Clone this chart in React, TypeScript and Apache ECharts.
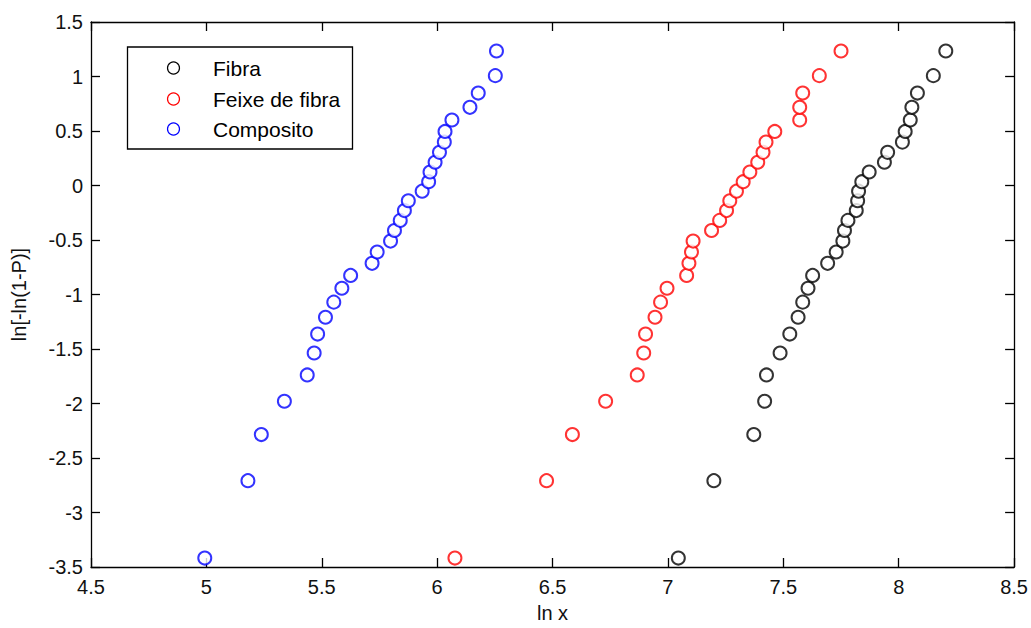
import React, { useEffect, useRef } from "react";
import * as echarts from "echarts";

// ln[-ln(1-P)] levels (shared rank positions)
const yLevels = [
  -3.418, -2.708, -2.285, -1.979, -1.738, -1.537, -1.363, -1.209, -1.07, -0.943,
  -0.825, -0.714, -0.61, -0.51, -0.413, -0.32, -0.23, -0.14, -0.052, 0.035,
  0.124, 0.213, 0.304, 0.398, 0.496, 0.601, 0.717, 0.848, 1.008, 1.234,
];

// ln x values per series
const fibraX = [
  7.045, 7.199, 7.372, 7.419, 7.427, 7.486, 7.528, 7.564, 7.584, 7.607,
  7.627, 7.692, 7.729, 7.758, 7.765, 7.78, 7.816, 7.822, 7.826, 7.84,
  7.872, 7.938, 7.952, 8.016, 8.028, 8.05, 8.057, 8.081, 8.15, 8.204,
];
const feixeX = [
  6.077, 6.474, 6.586, 6.73, 6.867, 6.895, 6.903, 6.944, 6.968, 6.996,
  7.081, 7.091, 7.102, 7.109, 7.189, 7.224, 7.254, 7.268, 7.297, 7.326,
  7.355, 7.389, 7.412, 7.425, 7.463, 7.571, 7.571, 7.584, 7.656, 7.75,
];
const compositoX = [
  4.993, 5.18, 5.238, 5.338, 5.437, 5.467, 5.482, 5.516, 5.552, 5.587,
  5.625, 5.718, 5.74, 5.798, 5.815, 5.84, 5.858, 5.875, 5.935, 5.963,
  5.969, 5.991, 6.01, 6.031, 6.034, 6.064, 6.142, 6.178, 6.252, 6.257,
];

const seriesNames = ["Fibra", "Feixe de fibra", "Composito"];
const seriesColors = ["#000000", "#ff0000", "#0000ff"];
const seriesX = [fibraX, feixeX, compositoX];

const FONT = "Liberation Sans, Arial, sans-serif";

export default function App() {
  const ref = useRef<HTMLDivElement>(null);

  useEffect(() => {
    if (!ref.current) return;
    const chart = echarts.init(ref.current, null, { renderer: "svg" });

    const axisLine = { show: true, onZero: false, lineStyle: { color: "#000", width: 1.3 } };
    const axisTick = { show: true, inside: true, length: 9, lineStyle: { color: "#000", width: 1.3 } };

    const legendRows = [68, 99, 129];
    const legendGraphic: any[] = [
      {
        type: "rect",
        shape: { x: 127.5, y: 47, width: 225, height: 102 },
        style: { fill: "#fff", stroke: "#000", lineWidth: 1.3 },
        z: 100,
      },
    ];
    seriesNames.forEach((n, i) => {
      legendGraphic.push({
        type: "circle",
        shape: { cx: 173.5, cy: legendRows[i], r: 6 },
        style: { fill: "none", stroke: seriesColors[i], lineWidth: 1.2 },
        z: 101,
      });
      legendGraphic.push({
        type: "text",
        x: 213,
        y: legendRows[i],
        style: {
          text: n,
          fill: "#000",
          font: `21px ${FONT}`,
          verticalAlign: "middle",
          align: "left",
        },
        z: 101,
      });
    });

    chart.setOption({
      animation: false,
      backgroundColor: "#fff",
      grid: { left: 91, right: 15, top: 22, bottom: 57 },
      xAxis: [
        {
          type: "value",
          min: 4.5,
          max: 8.5,
          interval: 0.5,
          position: "bottom",
          name: "ln x",
          nameLocation: "middle",
          nameGap: 36,
          nameTextStyle: { fontFamily: FONT, fontSize: 20, color: "#111" },
          axisLine,
          axisTick,
          splitLine: { show: false },
          axisLabel: { fontFamily: FONT, fontSize: 20, color: "#111", margin: 10 },
        },
        {
          type: "value",
          min: 4.5,
          max: 8.5,
          interval: 0.5,
          position: "top",
          axisLine,
          axisTick,
          splitLine: { show: false },
          axisLabel: { show: false },
        },
      ],
      yAxis: [
        {
          type: "value",
          min: -3.5,
          max: 1.5,
          interval: 0.5,
          position: "left",
          name: "ln[-ln(1-P)]",
          nameLocation: "middle",
          nameGap: 62,
          nameTextStyle: { fontFamily: FONT, fontSize: 20, color: "#111" },
          axisLine,
          axisTick,
          splitLine: { show: false },
          axisLabel: { fontFamily: FONT, fontSize: 20, color: "#111", margin: 8 },
        },
        {
          type: "value",
          min: -3.5,
          max: 1.5,
          interval: 0.5,
          position: "right",
          axisLine,
          axisTick,
          splitLine: { show: false },
          axisLabel: { show: false },
        },
      ],
      series: seriesNames.map((n, i) => ({
        name: n,
        type: "scatter",
        xAxisIndex: 0,
        yAxisIndex: 0,
        symbol: "emptyCircle",
        symbolSize: 13,
        itemStyle: { color: seriesColors[i], borderColor: seriesColors[i], borderWidth: 1.2 },
        data: seriesX[i].map((x, k) => [x, yLevels[k]]),
      })),
      graphic: legendGraphic,
    });

    return () => chart.dispose();
  }, []);

  return (
    <div
      ref={ref}
      style={{ position: "fixed", left: 0, top: 0, width: 1031, height: 628, background: "#fff" }}
    />
  );
}
